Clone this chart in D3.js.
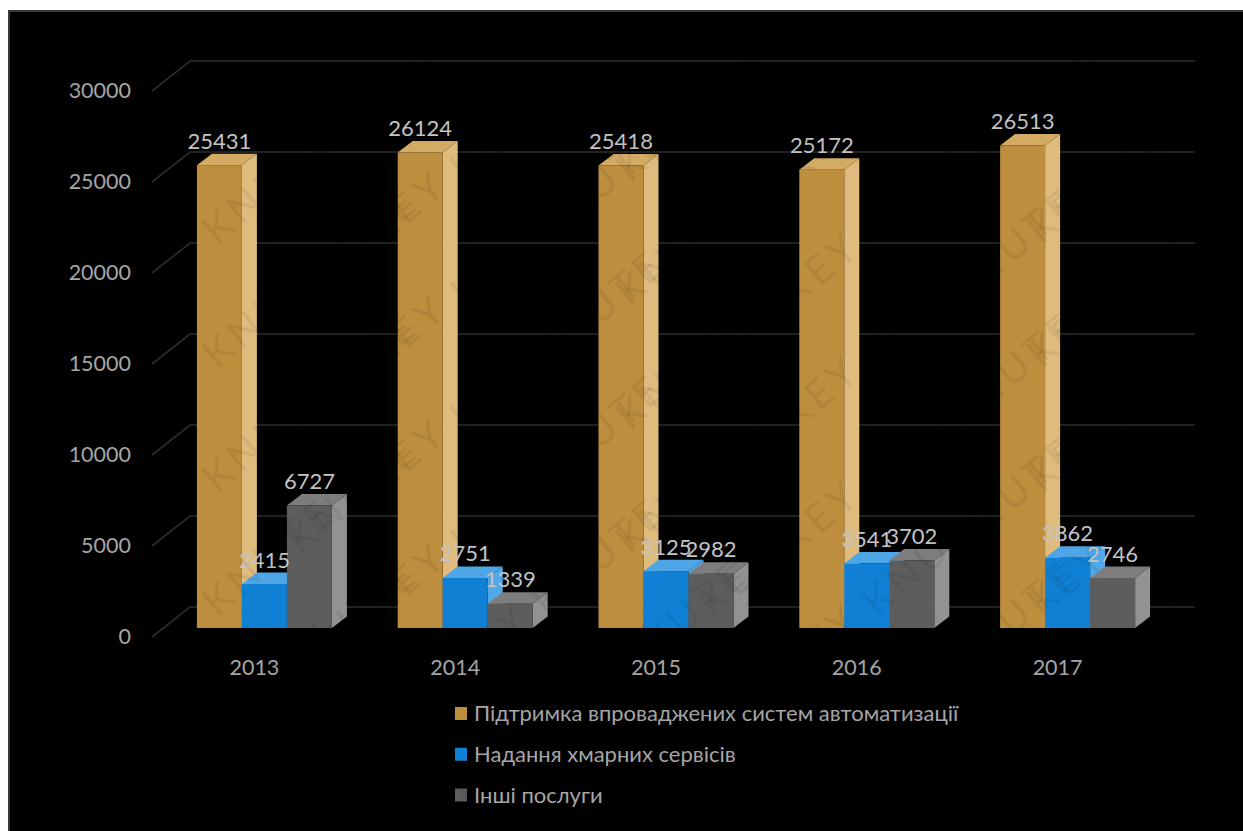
<!DOCTYPE html>
<html>
<head>
<meta charset="utf-8">
<script src="https://cdn.jsdelivr.net/npm/d3@7"></script>
<style>
  html, body { margin: 0; padding: 0; background: #fff; }
  svg { display: block; }
  text { font-family: Lato, "Open Sans", sans-serif; }
</style>
</head>
<body>
<div id="chart"></div>
<script>
const years = ["2013", "2014", "2015", "2016", "2017"];
const seriesNames = [
  "Підтримка впроваджених систем автоматизації",
  "Надання хмарних сервісів",
  "Інші послуги"
];
const supportValues = [25431, 26124, 25418, 25172, 26513];
const cloudValues = [2415, 2751, 3125, 3541, 3862];
const otherValues = [6727, 1339, 2982, 3702, 2746];
const axisTicks = [0, 5000, 10000, 15000, 20000, 25000, 30000];
const watermarkWords = ["KNUTE", "KEY", "KNUTE", "KEY"];

const seriesValues = [supportValues, cloudValues, otherValues];
const palette = [
  { front: "#bc8e3d", side: "#dfbb7e", top: "#d3ab63", key: "#bc8e3d" },
  { front: "#0f80d4", side: "#51a9e9", top: "#4fa6e6", key: "#0f80d4" },
  { front: "#5d5d5d", side: "#929292", top: "#7d7d7d", key: "#5d5d5d" }
];

const width = 1243, height = 831;
const svg = d3.select("#chart").append("svg").attr("width", width).attr("height", height);

// Panel with its soft upper and left edges
svg.append("rect").attr("width", width).attr("height", height).attr("fill", "#fff");
svg.append("rect").attr("x", 8).attr("y", 10).attr("width", width - 8).attr("height", height - 10).attr("fill", "#3a3a3a");
svg.append("rect").attr("x", 10).attr("y", 12).attr("width", width - 10).attr("height", height - 12).attr("fill", "#000");

// Front plane of the 3-D box; walls and bars are offset from it in depth
const y = d3.scaleLinear().domain([0, 30000]).range([637, 91]);
const x = d3.scaleBand().domain(years).range([153, 1157]);
const clusterWidth = 135;
const x1 = d3.scaleBand().domain(d3.range(seriesNames.length)).range([0, clusterWidth]);
const wallDepth = { dx: 38, dy: 30 };
const barInset = { dx: 11, dy: 9 };
const barDepth = { dx: 15, dy: 11.5 };

// Gridlines: a diagonal on the side wall, then the run along the back wall
const grid = svg.append("g").attr("fill", "none").attr("stroke", "#2c2c2c").attr("stroke-width", 1.6);
grid.selectAll("path").data(axisTicks).join("path")
  .attr("d", t => d3.line()([
    [x.range()[0] - 1, y(t)],
    [x.range()[0] - 1 + wallDepth.dx, y(t) - wallDepth.dy],
    [x.range()[1] + wallDepth.dx, y(t) - wallDepth.dy]
  ]));

// Value axis labels
svg.append("g").selectAll("text").data(axisTicks).join("text")
  .attr("x", 131).attr("y", t => y(t) - 1)
  .attr("text-anchor", "end").attr("dominant-baseline", "central")
  .attr("font-size", 21.5).attr("fill", "#a6a6a6")
  .text(t => t);

// Year labels
svg.append("g").selectAll("text").data(years).join("text")
  .attr("x", d => x(d) + x.bandwidth() / 2 + 1).attr("y", 667)
  .attr("text-anchor", "middle").attr("dominant-baseline", "central")
  .attr("font-size", 21.5).attr("fill", "#a6a6a6")
  .text(d => d);

// Flatten into one record per bar, drawn left to right so nearer faces overlap
const bars = years.flatMap((year, i) =>
  seriesNames.map((_, s) => ({ year, s, value: seriesValues[s][i] })));

const barGeom = d => {
  const left = x(d.year) + (x.bandwidth() - clusterWidth) / 2 + x1(d.s) + barInset.dx;
  const right = left + x1.bandwidth();
  const base = y(0) - barInset.dy;
  const top = y(d.value) - barInset.dy;
  return { left, right, base, top };
};

const barGroups = svg.append("g").selectAll("g").data(bars).join("g");
barGroups.append("path")
  .attr("fill", d => palette[d.s].side)
  .attr("d", d => {
    const g = barGeom(d);
    return d3.line()([[g.right, g.top], [g.right + barDepth.dx, g.top - barDepth.dy],
      [g.right + barDepth.dx, g.base - barDepth.dy], [g.right, g.base]]) + "Z";
  });
barGroups.append("path")
  .attr("fill", d => palette[d.s].top)
  .attr("d", d => {
    const g = barGeom(d);
    return d3.line()([[g.left, g.top], [g.left + barDepth.dx, g.top - barDepth.dy],
      [g.right + barDepth.dx, g.top - barDepth.dy], [g.right, g.top]]) + "Z";
  });
barGroups.append("rect")
  .attr("fill", d => palette[d.s].front)
  .attr("x", d => barGeom(d).left)
  .attr("y", d => barGeom(d).top)
  .attr("width", x1.bandwidth())
  .attr("height", d => barGeom(d).base - barGeom(d).top);

// Value labels above each bar
svg.append("g").selectAll("text").data(bars).join("text")
  .attr("x", d => (barGeom(d).left + barGeom(d).right) / 2)
  .attr("y", d => barGeom(d).top - 25)
  .attr("text-anchor", "middle").attr("dominant-baseline", "central")
  .attr("font-size", 22).attr("fill", "#c4c4c4")
  .text(d => d.value);

// Legend
const legendY = d3.scalePoint().domain(seriesNames).range([712.5, 794]);
const legend = svg.append("g").selectAll("g").data(seriesNames).join("g")
  .attr("transform", d => `translate(455,${legendY(d)})`);
legend.append("rect")
  .attr("x", 0).attr("y", -5.5).attr("width", 12).attr("height", 13)
  .attr("fill", (d, i) => palette[i].key);
legend.append("text")
  .attr("x", 19).attr("y", 0).attr("dominant-baseline", "central")
  .attr("font-size", 22).attr("fill", "#a6a6a6")
  .text(d => d);

// Diagonal institutional watermark tiled across the page; words that would
// run past the page edge are dropped
const mark = svg.append("g").attr("pointer-events", "none")
  .attr("fill", "#000").attr("fill-opacity", 0.08)
  .attr("font-size", 40).attr("letter-spacing", 5);
const rows = d3.range(0, 15), cols = d3.range(0, 9);
rows.forEach(r => cols.forEach(c => {
  const word = mark.append("text")
    .attr("transform", `translate(${c * 165 + (r % 2 ? 82 : 0) - 30},${r * 62 + 60}) rotate(-40)`)
    .text(watermarkWords[(c + r) % watermarkWords.length]);
  const box = word.node().getBoundingClientRect();
  if (box.left < 0 || box.top < 0 || box.right > width || box.bottom > height) word.remove();
}));
</script>
</body>
</html>
